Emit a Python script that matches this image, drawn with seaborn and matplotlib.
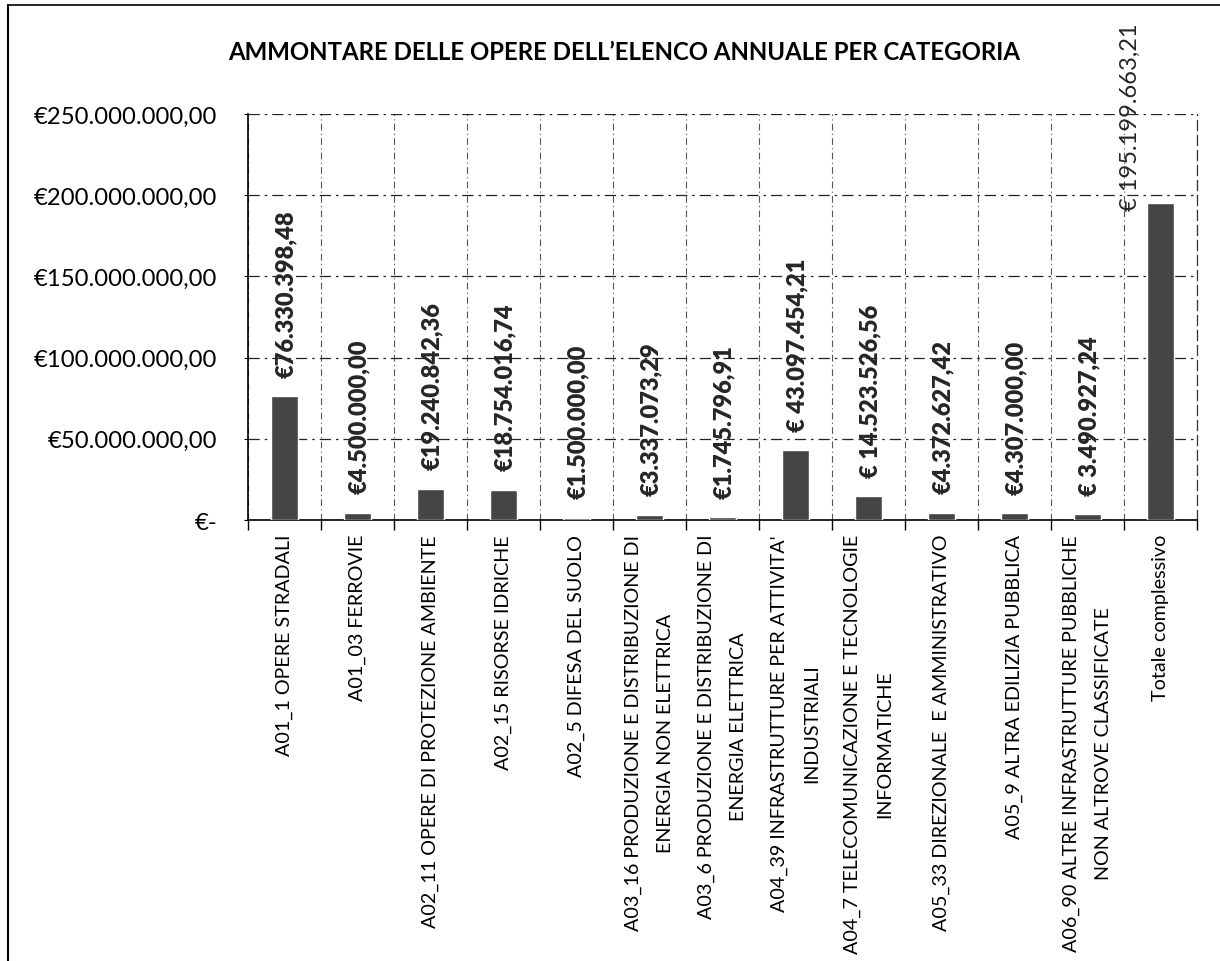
import matplotlib
matplotlib.use("Agg")
import matplotlib.pyplot as plt
from matplotlib.lines import Line2D
from matplotlib.ticker import FuncFormatter
import seaborn as sns
import pandas as pd
import numpy as np

# ---- data ----
categories = [
    "A01_1 OPERE STRADALI",
    "A01_03 FERROVIE",
    "A02_11 OPERE DI PROTEZIONE AMBIENTE",
    "A02_15 RISORSE IDRICHE",
    "A02_5 DIFESA DEL SUOLO",
    "A03_16 PRODUZIONE E DISTRIBUZIONE DI\nENERGIA NON ELETTRICA",
    "A03_6 PRODUZIONE E DISTRIBUZIONE DI\nENERGIA ELETTRICA",
    "A04_39 INFRASTRUTTURE PER ATTIVITA'\nINDUSTRIALI",
    "A04_7 TELECOMUNICAZIONE E TECNOLOGIE\nINFORMATICHE",
    "A05_33 DIREZIONALE  E AMMINISTRATIVO",
    "A05_9 ALTRA EDILIZIA PUBBLICA",
    "A06_90 ALTRE INFRASTRUTTURE PUBBLICHE\nNON ALTROVE CLASSIFICATE",
    "Totale complessivo",
]
values = [
    76330398.48, 4500000.00, 19240842.36, 18754016.74, 1500000.00,
    3337073.29, 1745796.91, 43097454.21, 14523526.56, 4372627.42,
    4307000.00, 3490927.24, 195199663.21,
]
value_labels = [
    "€76.330.398,48", "€4.500.000,00", "€19.240.842,36", "€18.754.016,74",
    "€1.500.000,00", "€3.337.073,29", "€1.745.796,91", "€ 43.097.454,21",
    "€ 14.523.526,56", "€4.372.627,42", "€4.307.000,00", "€ 3.490.927,24",
    "€ 195.199.663,21",
]
y_ticks = [0, 50e6, 100e6, 150e6, 200e6, 250e6]
title = "AMMONTARE DELLE OPERE DELL\u2019ELENCO ANNUALE PER CATEGORIA"

# ---- style ----
sns.set_theme(style="white")
plt.rcParams['font.family'] = ['Lato', 'DejaVu Sans']

W, H = 1220, 962
fig = plt.figure(figsize=(W / 100, H / 100), dpi=100)
fig.patch.set_facecolor("white")

left, right, top, bottom = 248, 1197, 115, 521
ax = fig.add_axes([left / W, 1 - bottom / H, (right - left) / W, (bottom - top) / H])

df = pd.DataFrame({"cat": categories, "val": values})
sns.barplot(data=df, x="cat", y="val", color="#454545", saturation=1,
            width=0.37, ax=ax, zorder=3)

n = len(categories)
ax.set_xlim(-0.5, n - 0.5)
ax.set_ylim(0, 250e6)
ax.set_xlabel("")
ax.set_ylabel("")


def eur(v, pos=None):
    if v == 0:
        return "€-"
    s = f"{v:,.2f}".replace(",", "X").replace(".", ",").replace("X", ".")
    return "€" + s


ax.set_yticks(y_ticks)
ax.yaxis.set_major_formatter(FuncFormatter(eur))
ax.tick_params(axis="y", which="major", length=3, direction="out", pad=19,
               labelsize=17.2, colors="black", left=True, width=0.8)

ax.set_xticks(range(n))
ax.set_xticklabels(categories, rotation=90, ha="center", va="top",
                   multialignment="center", fontsize=14.2, linespacing=2.05)
ax.set_xticks(np.arange(-0.5, n, 1), minor=True)
ax.tick_params(axis="x", which="major", length=0, pad=10, colors="black")
ax.tick_params(axis="x", which="minor", length=7, direction="out",
               bottom=True, width=1.0, color="black")

# gridlines
ax.grid(False)
ax.grid(axis="y", which="major", linestyle=(0, (9, 4, 2, 4)),
        color="#222222", linewidth=0.9, zorder=0)
ax.grid(axis="x", which="minor", linestyle=(0, (6, 3, 1, 3)),
        color="#555555", linewidth=0.8, zorder=0)

for s in ["left", "bottom"]:
    ax.spines[s].set_color("black")
    ax.spines[s].set_linewidth(1.2)
ax.spines["top"].set_visible(False)
ax.spines["right"].set_linestyle((0, (8, 4)))
ax.spines["right"].set_color("#333333")
ax.spines["right"].set_linewidth(0.9)

# data labels
for i, (v, lab) in enumerate(zip(values, value_labels)):
    if i == n - 1:
        ax.annotate(lab, (i, v), xytext=(-22, -5), textcoords="offset points",
                    rotation=90, ha="center", va="bottom", fontsize=17,
                    fontweight="normal", annotation_clip=False, zorder=5)
    else:
        ax.annotate(lab, (i, v), xytext=(1, 14), textcoords="offset points",
                    rotation=90, ha="center", va="bottom", fontsize=17,
                    fontweight="heavy", annotation_clip=False, zorder=5)

# title
fig.text(624 / W, 1 - 52 / H, title, ha="center", va="center",
         fontsize=17.3, fontweight="bold", color="black")

# outer frame (scanned page border)
fig.add_artist(Line2D([8 / W, 8 / W], [0, 1 - 6 / H], transform=fig.transFigure,
                      color="black", linewidth=1.5))
fig.add_artist(Line2D([8 / W, 1], [1 - 6 / H, 1 - 6 / H], transform=fig.transFigure,
                      color="black", linewidth=1.2))

fig.savefig("out.png", dpi=100)
